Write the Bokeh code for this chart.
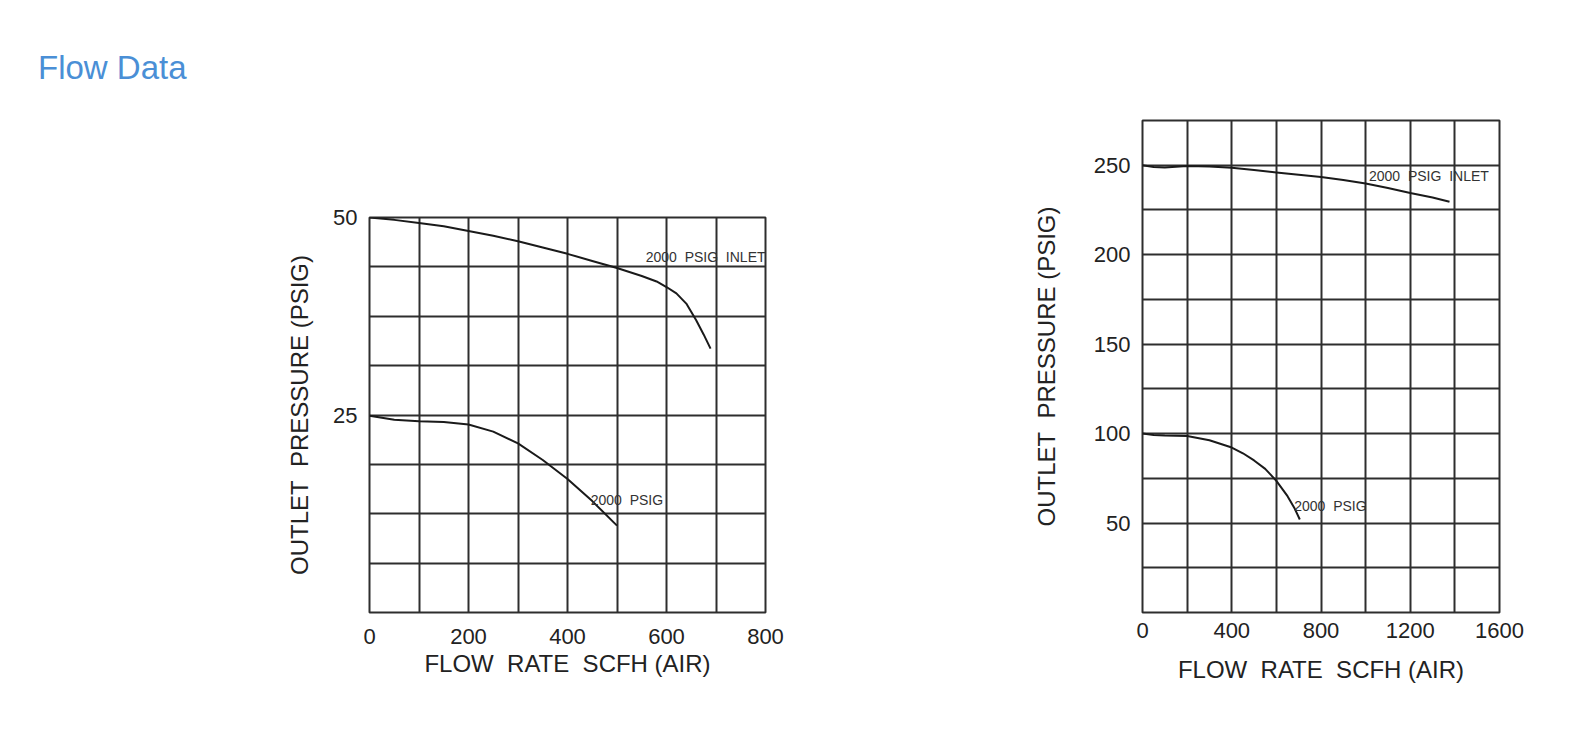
from bokeh.plotting import figure
from bokeh.models import Range1d, FixedTicker, Div, Spacer
from bokeh.layouts import column, row
from bokeh.core.properties import value
from bokeh.embed import file_html
from bokeh.resources import INLINE

NB = "\u00a0"

# ---- data: left chart ----
left_inlet_x = [0, 50, 100, 150, 200, 250, 300, 350, 400, 450, 500, 550, 580, 600, 620, 640, 660, 675, 689]
left_inlet_y = [50, 49.7, 49.3, 48.9, 48.3, 47.7, 47.0, 46.2, 45.4, 44.5, 43.6, 42.6, 41.9, 41.2, 40.4, 39.1, 37.0, 35.2, 33.4]
left_low_x = [0, 50, 100, 150, 200, 250, 300, 350, 400, 450, 500]
left_low_y = [24.9, 24.4, 24.2, 24.1, 23.8, 22.9, 21.4, 19.3, 16.9, 14.1, 11.0]
left_xticks = [0, 200, 400, 600, 800]
left_xgrid = [0, 100, 200, 300, 400, 500, 600, 700, 800]
left_yticks = [25, 50]
left_ygrid = [0, 6.25, 12.5, 18.75, 25, 31.25, 37.5, 43.75, 50]
left_labels = ["2000" + NB + " PSIG" + NB + " INLET", "2000" + NB + " PSIG"]
left_label_x = [558, 447]
left_label_y = [45.0, 14.3]

# ---- data: right chart ----
right_inlet_x = [0, 50, 100, 200, 300, 400, 500, 600, 700, 800, 900, 1000, 1100, 1200, 1300, 1376]
right_inlet_y = [250, 249.0, 248.7, 249.5, 249.3, 248.6, 247.3, 246.0, 244.7, 243.4, 241.8, 239.8, 237.3, 234.5, 232.0, 229.6]
right_low_x = [0, 50, 100, 200, 300, 400, 450, 500, 550, 600, 650, 680, 705]
right_low_y = [100, 99.2, 98.9, 98.7, 96.3, 92.2, 89.0, 85.0, 80.3, 73.6, 65.0, 58.6, 52.0]
right_xticks = [0, 400, 800, 1200, 1600]
right_xgrid = [0, 200, 400, 600, 800, 1000, 1200, 1400, 1600]
right_yticks = [50, 100, 150, 200, 250]
right_ygrid = [0, 25, 50, 75, 100, 125, 150, 175, 200, 225, 250, 275]
right_labels = ["2000" + NB + " PSIG" + NB + " INLET", "2000" + NB + " PSIG"]
right_label_x = [1015, 680]
right_label_y = [243.9, 59.4]

x_title = "FLOW" + NB + " RATE" + NB + " SCFH (AIR)"
y_title = "OUTLET" + NB + " PRESSURE (PSIG)"

FONT = "Liberation Sans"
GRID = "#2e2e2e"
INK = "#1a1a1a"


def make_chart(xr, yr, xticks, xgrid, yticks, ygrid, width, height, bl, bt, br, bb,
               x_lab_standoff, x_title_standoff, y_title_standoff):
    p = figure(width=width, height=height, x_range=Range1d(*xr), y_range=Range1d(*yr),
               output_backend="svg", toolbar_location=None,
               min_border_left=bl, min_border_top=bt, min_border_right=br, min_border_bottom=bb)
    p.background_fill_color = "white"
    p.border_fill_color = "white"
    p.outline_line_color = GRID
    p.outline_line_width = 2
    p.xaxis.ticker = FixedTicker(ticks=xticks)
    p.yaxis.ticker = FixedTicker(ticks=yticks)
    p.xgrid.ticker = FixedTicker(ticks=xgrid)
    p.ygrid.ticker = FixedTicker(ticks=ygrid)
    for g in (p.xgrid, p.ygrid):
        g.grid_line_color = GRID
        g.grid_line_width = 2
        g.grid_line_alpha = 1.0
    for ax in (p.xaxis, p.yaxis):
        ax.axis_line_color = None
        ax.major_tick_line_color = None
        ax.minor_tick_line_color = None
        ax.major_tick_out = 0
        ax.major_tick_in = 0
        ax.major_label_text_font = FONT
        ax.major_label_text_font_size = "22px"
        ax.major_label_text_color = "#222222"
        ax.axis_label_text_font = FONT
        ax.axis_label_text_font_size = "24px"
        ax.axis_label_text_font_style = "normal"
        ax.axis_label_text_color = "#222222"
    p.xaxis.axis_label = x_title
    p.yaxis.axis_label = y_title
    p.xaxis.major_label_standoff = x_lab_standoff
    p.xaxis.axis_label_standoff = x_title_standoff
    p.yaxis.major_label_standoff = 12
    p.yaxis.axis_label_standoff = y_title_standoff
    return p


p1 = make_chart((0, 800), (0, 50), left_xticks, left_xgrid, left_yticks, left_ygrid,
                width=800, height=490, bl=369, bt=22, br=35, bb=73,
                x_lab_standoff=16, x_title_standoff=3, y_title_standoff=17)
p1.line(left_inlet_x, left_inlet_y, line_color=INK, line_width=2)
p1.line(left_low_x, left_low_y, line_color=INK, line_width=2)
p1.text(x=left_label_x, y=left_label_y, text=left_labels, text_font=value(FONT),
        text_font_size="14px", text_color="#333333", text_baseline="middle", text_align="left")

p2 = make_chart((0, 1600), (0, 275), right_xticks, right_xgrid, right_yticks, right_ygrid,
                width=739, height=590, bl=342, bt=22, br=40, bb=76,
                x_lab_standoff=10, x_title_standoff=15, y_title_standoff=31)
p2.line(right_inlet_x, right_inlet_y, line_color=INK, line_width=2)
p2.line(right_low_x, right_low_y, line_color=INK, line_width=2)
p2.text(x=right_label_x, y=right_label_y, text=right_labels, text_font=value(FONT),
        text_font_size="14px", text_color="#333333", text_baseline="middle", text_align="left")

title = Div(text='<div style="font-family: \'Liberation Sans\', Arial, sans-serif; font-size: 33px; '
                 'line-height: 33px; color: #4a8fd6; padding-left: 38px; padding-top: 51px;">Flow Data</div>',
            width=800, height=98, margin=(0, 0, 0, 0))

left_col = column(Spacer(width=800, height=97), p1, spacing=0)
layout = column(title, row(left_col, p2, spacing=0), spacing=0)

open("out.html", "w").write(file_html(layout, INLINE))
